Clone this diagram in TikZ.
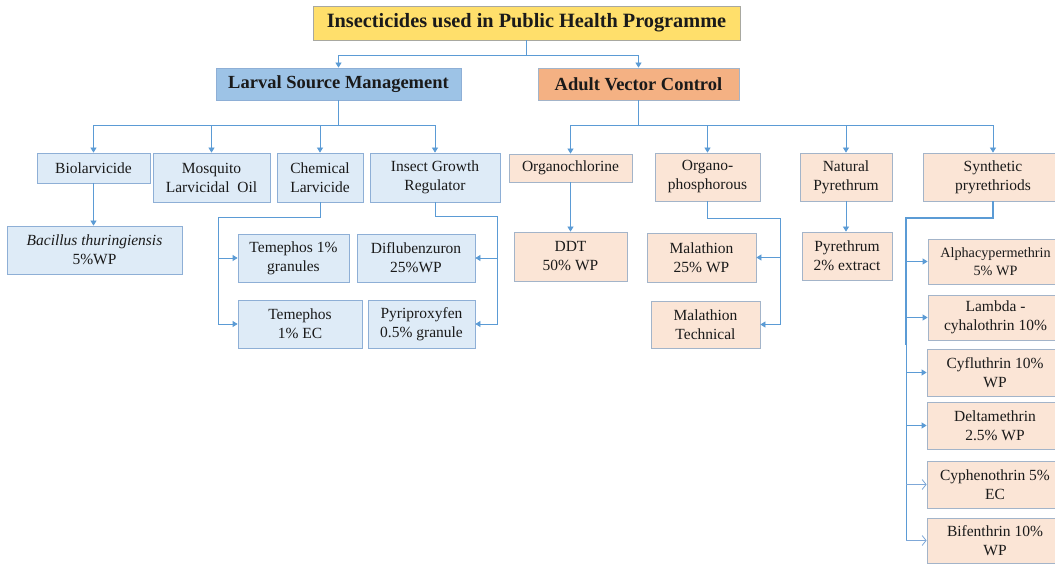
\documentclass[tikz,border=0pt]{standalone}
\usepackage{fontspec}
\setmainfont{Liberation Serif}
\usetikzlibrary{arrows.meta}

\definecolor{linkblue}{HTML}{5B9BD5}
\definecolor{openlink}{HTML}{7FA8D8}
\definecolor{paleblue}{HTML}{DEEBF7}
\definecolor{blueedge}{HTML}{8EAFD6}
\definecolor{peach}{HTML}{FBE5D6}
\definecolor{peachedge}{HTML}{A3B4C9}
\definecolor{headblue}{HTML}{9DC3E6}
\definecolor{headorange}{HTML}{F4B183}
\definecolor{titlegold}{HTML}{FFDF6B}
\definecolor{titleedge}{HTML}{A8A8A0}
\definecolor{ink}{HTML}{1A1A1A}

\tikzset{
  box/.style={line width=0.8pt, inner sep=1pt, align=center, text=ink,
    font=\fontsize{15.5}{19}\selectfont},
  bluebox/.style={box, fill=paleblue, draw=blueedge},
  peachbox/.style={box, fill=peach, draw=peachedge},
  headbox/.style={box, font=\bfseries\fontsize{18.5}{22}\selectfont},
  conn/.style={draw=linkblue, line width=0.8pt},
  arr/.style={conn, -{Triangle[length=5pt,width=6pt]}},
  openarr/.style={draw=openlink, line width=0.8pt, -{Straight Barb[length=4pt,width=10pt]}},
  dims/.style 2 args={minimum width=#1, minimum height=#2},
}

\begin{document}
\begin{tikzpicture}[x=1pt, y=-1pt]
\useasboundingbox (0,0) rectangle (1055,564);
\fill[white] (0,0) rectangle (1055,564);

% top of the tree
\node[box, fill=titlegold, draw=titleedge, dims={427}{34},
  font=\bfseries\fontsize{20.3}{24}\selectfont] (title) at (526.5,23)
  {Insecticides used in Public Health Programme};
\node[headbox, fill=headblue, draw=blueedge, dims={245}{32}] (lsm) at (338.5,84)
  {Larval Source Management};
\node[headbox, fill=headorange, draw=peachedge, dims={201}{32}] (avc) at (638.5,84)
  {Adult Vector Control};

% larval source management branch
\node[bluebox, dims={113}{30}] (bio)  at (93.5,168)  {Biolarvicide};
\node[bluebox, dims={117}{49}] (mlo)  at (211.5,177.5) {Mosquito\\Larvicidal\ \ Oil};
\node[bluebox, dims={86}{49}]  (chem) at (320,177.5) {Chemical\\Larvicide};
\node[bluebox, dims={130}{49}] (igr)  at (435,177.5) {Insect Growth\\Regulator};
\node[bluebox, dims={175}{48}] (bac)  at (94.5,250)  {\textit{Bacillus thuringiensis}\\5\%WP};
\node[bluebox, dims={111}{48}] (tg)   at (293.5,258) {Temephos 1\%\\granules};
\node[bluebox, dims={118}{48}] (dif)  at (416,258)   {Diflubenzuron\\25\%WP};
\node[bluebox, dims={124}{48}] (tec)  at (300,324)   {Temephos\\1\% EC};
\node[bluebox, dims={107}{48}] (pyr)  at (421.5,324) {Pyriproxyfen\\0.5\% granule};

% adult vector control branch
\node[peachbox, dims={123}{28}] (och)   at (570.5,168) {Organochlorine};
\node[peachbox, dims={105}{48}] (oph)   at (707.5,177) {Organo-\\phosphorous};
\node[peachbox, dims={92}{48}]  (npy)   at (846,177)   {Natural\\Pyrethrum};
\node[peachbox, dims={140}{48}] (syn)   at (993,177)   {Synthetic\\pryrethriods};
\node[peachbox, dims={113}{49}] (ddt)   at (570.5,256.5) {DDT\\50\% WP};
\node[peachbox, dims={109}{49}] (mal)   at (701.5,257.5) {Malathion\\25\% WP};
\node[peachbox, dims={109}{47}] (mtech) at (705.5,324.5) {Malathion\\Technical};
\node[peachbox, dims={90}{48}]  (pyx)   at (847,256)   {Pyrethrum\\2\% extract};

% synthetic pyrethroid products
\node[peachbox, dims={135}{45}, font=\fontsize{14.2}{18}\selectfont] (alpha) at (995.5,261.5) {Alphacypermethrin\\5\% WP};
\node[peachbox, dims={135}{45}] (lam) at (995.5,317.5) {Lambda -\\cyhalothrin 10\%};
\node[peachbox, dims={136}{47}] (cyf) at (995,372.5) {Cyfluthrin 10\%\\WP};
\node[peachbox, dims={136}{47}] (del) at (995,425.5) {Deltamethrin\\2.5\% WP};
\node[peachbox, dims={136}{47}] (cyp) at (995,484.5) {Cyphenothrin 5\%\\EC};
\node[peachbox, dims={136}{45}] (bif) at (995,540.5) {Bifenthrin 10\%\\WP};

% connectors from the title
\draw[arr] (title.south) -- ++(0,15) -| (lsm.north);
\draw[arr] (title.south) -- ++(0,15) -| (avc.north);

% connectors to the categories
\foreach \n in {bio,mlo,chem,igr} \draw[arr] (lsm.south) -- ++(0,25) -| (\n.north);
\foreach \n in {och,oph,npy,syn} \draw[arr] (avc.south) -- ++(0,25) -| (\n.north);

% single products
\draw[arr] (bio.south) -- (bio.south |- bac.north);
\draw[arr] (och.south) -- (och.south |- ddt.north);
\draw[arr] (npy.south) -- (npy.south |- pyx.north);

% chemical larvicides
\coordinate (chemrail) at (218,217);
\draw[arr] (chem.south) |- (chemrail) |- (tec.west);
\draw[arr] (chemrail |- tg.west) -- (tg.west);

% insect growth regulators
\coordinate (igrrail) at (497,216);
\draw[arr] (igr.south) |- (igrrail) |- (pyr.east);
\draw[arr] (igrrail |- dif.east) -- (dif.east);

% organophosphorous products
\coordinate (ophrail) at (780,218);
\draw[arr] (oph.south) |- (ophrail) |- (mtech.east);
\draw[arr] (ophrail |- mal.east) -- (mal.east);

% synthetic pyrethroid rail
\coordinate (synrail) at (906,218);
\coordinate (synknee) at (906,345);
\draw[conn, line width=2pt] (syn.south) |- (synrail) -- (synknee);
\draw[conn] (synknee) -- (synrail |- bif.west);
\foreach \n in {alpha,lam,cyf,del} \draw[arr] (synrail |- \n.west) -- (\n.west);
\foreach \n in {cyp,bif} \draw[openarr] (synrail |- \n.west) -- (\n.west);
\end{tikzpicture}
\end{document}
